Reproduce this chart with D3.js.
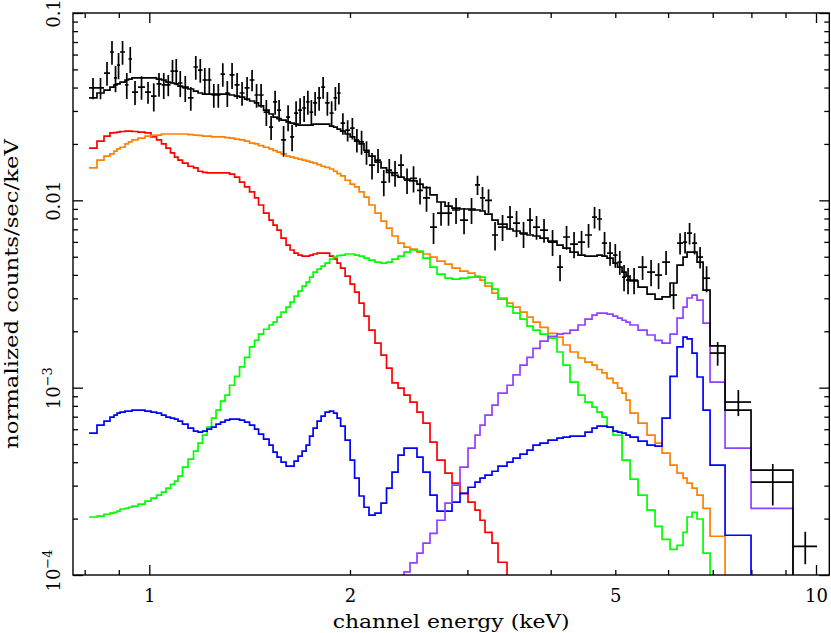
<!DOCTYPE html>
<html><head><meta charset="utf-8">
<script src="https://cdn.jsdelivr.net/npm/d3@7"></script>
<style>body{margin:0;background:#fff}svg{display:block}</style>
</head><body>
<svg id="chart" width="831" height="633"></svg>
<script>
// ---- channel bin edges (keV) ----
const binEdges = [
0.8120,0.8347,0.8552,0.8730,0.8852,0.8946,0.9039,0.9196,0.9307,0.9420,0.9617,0.9853,1.0059,1.0252,1.0430,1.0594,1.0760,1.0909,1.1042,1.1215,1.1431,1.1650,1.1833,1.2018,1.2207,1.2398,1.2592,1.2790,1.2990,1.3194,1.3424,1.3658,1.3896,1.4138,1.4384,1.4585,1.4839,
1.5124,1.5334,1.5547,1.5764,1.6038,1.6262,1.6488,1.6718,1.6951,1.7187,1.7396,1.7608,1.7853,1.8101,1.8353,1.8641,1.8900,1.9130,1.9363,1.9666,2.0009,2.0322,2.0641,2.0991,2.1357,2.1805,2.2262,2.2689,2.3124,2.3609,2.4103,2.4607,2.5209,2.5737,
2.6367,2.7012,2.7769,2.8448,2.9245,3.0064,3.0800,3.1336,3.1882,3.2663,3.3347,3.4400,3.5121,3.5980,3.6860,3.7631,3.8552,3.9632,4.0884,4.1741,4.2763,4.3961,4.5036,4.6138,4.6942,4.7760,4.8593,4.9611,5.0388,5.1177,5.1890,5.2614,5.4088,5.5797,5.7359,5.8762,6.0408,6.1885,6.3182,6.4062,6.5178,6.6314,6.7703,6.9360,7.3046,7.9902,9.2360,10.036];

// ---- data (normalized counts/sec/keV) ----
const dataRate = [
0.0398,0.0398,0.0478,0.0619,0.0450,0.0527,0.0619,0.0413,0.0568,0.0378,0.0402,0.0378,0.0360,0.0418,0.0413,0.0413,0.0490,0.0490,0.0423,0.0398,0.0352,0.0515,0.0496,0.0439,0.0439,0.0365,0.0365,0.0472,0.0374,0.0467,0.0413,0.0374,0.0398,0.0439,0.0365,0.0365,
0.0296,0.0246,0.0335,0.0303,0.0210,0.0278,0.0218,0.0292,0.0303,0.0311,0.0335,0.0296,0.0331,0.0352,0.0402,0.0331,0.0292,0.0352,0.0374,0.0258,0.0237,0.0243,0.0210,0.0205,0.0181,0.0154,0.0164,0.0125,0.0145,0.0140,0.0154,0.0128,0.0131,0.0113,
0.0103,0.00720,0.00855,0.00855,0.00888,0.00785,0.00888,0.0121,0.0103,0.0100,0.00653,0.00720,0.00814,0.00756,0.00661,0.00785,0.00720,0.00694,0.00599,0.00440,0.00637,0.00584,0.00599,0.00653,0.00814,0.00795,0.00591,0.00523,0.00510,0.00468,0.00389,0.00375,0.00375,0.00440,0.00414,0.00399,0.00468,0.00312,0.00591,0.00599,0.00669,0.00591,0.00498,0.00384,0.00153,0.000838,0.000313,0.000142];
const dataErr = [
0.0052,0.0052,0.0069,0.0090,0.0072,0.0084,0.0090,0.0066,0.0090,0.0055,0.0058,0.0050,0.0062,0.0061,0.0066,0.0054,0.0071,0.0078,0.0067,0.0063,0.0051,0.0075,0.0072,0.0070,0.0070,0.0053,0.0053,0.0068,0.0059,0.0074,0.0066,0.0054,0.0058,0.0057,0.0053,0.0053,
0.0047,0.0036,0.0049,0.0040,0.0039,0.0044,0.0035,0.0046,0.0048,0.0049,0.0049,0.0047,0.0048,0.0051,0.0053,0.0048,0.0046,0.0051,0.0049,0.0034,0.0031,0.0032,0.0030,0.0030,0.0026,0.0025,0.0024,0.0020,0.0021,0.0022,0.0022,0.0020,0.0021,0.0018,
0.0016,0.00135,0.00124,0.00124,0.00141,0.00125,0.00141,0.00141,0.00149,0.00145,0.00113,0.00114,0.00118,0.00120,0.00105,0.00125,0.00104,0.00101,0.00095,0.00070,0.00092,0.00093,0.00087,0.00095,0.00107,0.00104,0.00086,0.00076,0.00074,0.00068,0.00062,0.00060,0.00060,0.00064,0.00066,0.00063,0.00068,0.00050,0.00077,0.00078,0.00088,0.00077,0.00065,0.00061,0.00022,0.000133,0.000078,0.000028];

// ---- model: total and components ----
const modelTotal = [
0.0352,0.0374,0.0388,0.0402,0.0413,0.0418,0.0428,0.0439,0.0444,0.0450,0.0450,0.0450,0.0450,0.0444,0.0439,0.0428,0.0423,0.0418,0.0407,0.0402,0.0393,0.0383,0.0374,0.0369,0.0369,0.0369,0.0369,0.0369,0.0369,0.0365,0.0360,0.0356,0.0347,0.0339,0.0331,0.0319,
0.0303,0.0289,0.0278,0.0273,0.0268,0.0262,0.0258,0.0255,0.0252,0.0252,0.0252,0.0252,0.0255,0.0255,0.0255,0.0255,0.0249,0.0246,0.0240,0.0234,0.0226,0.0218,0.0207,0.0200,0.0185,0.0172,0.0160,0.0149,0.0141,0.0136,0.0133,0.0130,0.0127,0.0122,
0.0117,0.0107,0.00980,0.00932,0.00909,0.00899,0.00899,0.00888,0.00877,0.00845,0.00785,0.00747,0.00703,0.00686,0.00669,0.00653,0.00645,0.00629,0.00606,0.00577,0.00556,0.00529,0.00510,0.00504,0.00504,0.00510,0.00504,0.00492,0.00462,0.00440,0.00414,0.00394,0.00371,0.00344,0.00316,0.00297,0.00305,0.00362,0.00451,0.00498,0.00529,0.00529,0.00468,0.00332,0.00167,0.000759,0.000363,0.00008];
const compRed = [
0.0190,0.0207,0.0220,0.0229,0.0230,0.0231,0.0233,0.0234,0.0234,0.0233,0.0231,0.0229,0.0218,0.0210,0.0200,0.0190,0.0179,0.0170,0.0164,0.0158,0.0152,0.0149,0.0143,0.0141,0.0140,0.0140,0.0140,0.0140,0.0140,0.0138,0.0133,0.0125,0.0118,0.0111,0.0103,0.00944,
0.00855,0.00785,0.00738,0.00694,0.00629,0.00577,0.00543,0.00523,0.00510,0.00504,0.00504,0.00510,0.00517,0.00523,0.00523,0.00523,0.00504,0.00486,0.00462,0.00435,0.00394,0.00357,0.00324,0.00283,0.00241,0.00203,0.00173,0.00149,0.00127,0.00106,0.000994,0.000913,0.000838,0.000741,
0.000647,0.000512,0.000410,0.000350,0.000309,0.000273,0.000245,0.000222,0.000196,0.000169,0.000148,0.000117,0.000090];
const compOrange = [
0.0149,0.0164,0.0172,0.0177,0.0183,0.0188,0.0192,0.0200,0.0205,0.0210,0.0215,0.0220,0.0222,0.0223,0.0226,0.0226,0.0226,0.0226,0.0226,0.0226,0.0224,0.0223,0.0222,0.0220,0.0220,0.0218,0.0218,0.0218,0.0216,0.0215,0.0212,0.0210,0.0207,0.0202,0.0200,0.0196,
0.0192,0.0188,0.0184,0.0181,0.0177,0.0172,0.0170,0.0168,0.0166,0.0164,0.0162,0.0160,0.0158,0.0155,0.0152,0.0150,0.0147,0.0143,0.0139,0.0135,0.0128,0.0122,0.0118,0.0111,0.0104,0.00944,0.00855,0.00775,0.00711,0.00645,0.00591,0.00563,0.00549,0.00529,
0.00517,0.00498,0.00474,0.00457,0.00435,0.00419,0.00409,0.00394,0.00375,0.00348,0.00320,0.00301,0.00283,0.00269,0.00253,0.00238,0.00224,0.00210,0.00195,0.00186,0.00169,0.00155,0.00144,0.00137,0.00132,0.00125,0.00120,0.00112,0.00106,0.000994,0.000936,0.000859,0.000732,0.000647,0.000558,0.000506,0.000447,0.000386,0.000350,0.000329,0.000309,0.000291,0.000267,0.000227,0.000161,0.000080];
const compGreen = [
0.000204,0.000206,0.000211,0.000214,0.000216,0.000219,0.000225,0.000227,0.000230,0.000233,0.000239,0.000248,0.000257,0.000267,0.000277,0.000291,0.000305,0.000317,0.000337,0.000377,0.000415,0.000458,0.000506,0.000558,0.000616,0.000688,0.000759,0.000848,0.000913,0.00103,0.00115,0.00129,0.00145,0.00165,0.00179,0.00193,
0.00205,0.00216,0.00224,0.00238,0.00253,0.00269,0.00286,0.00308,0.00328,0.00348,0.00366,0.00389,0.00414,0.00429,0.00446,0.00462,0.00486,0.00498,0.00507,0.00510,0.00517,0.00517,0.00510,0.00504,0.00492,0.00480,0.00468,0.00462,0.00468,0.00486,0.00504,0.00529,0.00543,0.00536,
0.00492,0.00440,0.00404,0.00384,0.00380,0.00384,0.00389,0.00389,0.00389,0.00362,0.00336,0.00297,0.00272,0.00250,0.00232,0.00213,0.00203,0.00193,0.00184,0.00155,0.00132,0.00107,0.000913,0.000838,0.000788,0.000741,0.000696,0.000616,0.000558,0.000558,0.000410,0.000410,0.000325,0.000267,0.000222,0.000182,0.000155,0.000137,0.000144,0.000169,0.000204,0.000216,0.000199,0.000131,0.000070];
const compBlue = [
0.000572,0.000631,0.000663,0.000696,0.000714,0.000732,0.000741,0.000750,0.000750,0.000759,0.000759,0.000750,0.000741,0.000732,0.000714,0.000696,0.000688,0.000680,0.000663,0.000639,0.000608,0.000586,0.000579,0.000586,0.000601,0.000616,0.000639,0.000655,0.000671,0.000680,0.000680,0.000671,0.000655,0.000631,0.000601,0.000565,
0.000531,0.000494,0.000453,0.000426,0.000400,0.000381,0.000381,0.000405,0.000431,0.000458,0.000494,0.000551,0.000608,0.000663,0.000705,0.000741,0.000750,0.000732,0.000688,0.000623,0.000525,0.000410,0.000329,0.000264,0.000230,0.000209,0.000214,0.000242,0.000291,0.000354,0.000436,0.000476,0.000476,0.000426,
0.000354,0.000267,0.000219,0.000219,0.000245,0.000273,0.000294,0.000313,0.000329,0.000341,0.000358,0.000381,0.000400,0.000421,0.000442,0.000464,0.000494,0.000506,0.000525,0.000538,0.000545,0.000551,0.000551,0.000579,0.000608,0.000623,0.000623,0.000616,0.000586,0.000579,0.000572,0.000558,0.000545,0.000518,0.000494,0.000487,0.000688,0.00115,0.00165,0.00186,0.00182,0.00153,0.00114,0.000759,0.000386,0.000163,0.000070];
const purpleStart = 66;
const compPurple = [
0.00007,0.000104,0.000116,0.000131,0.000148,0.000167,0.000196,0.000242,0.000302,0.000377,0.000476,0.000558,0.000631,0.000714,0.000807,0.000936,0.00103,0.00117,0.00132,0.00145,0.00162,0.00177,0.00188,0.00193,0.00195,0.00203,0.00216,0.00232,0.00244,0.00250,0.00250,0.00247,0.00241,0.00235,0.00229,0.00224,0.00216,0.00203,0.00191,0.00179,0.00173,0.00193,0.00235,0.00269,0.00301,0.00312,0.00293,0.00221,0.00107,0.000476,0.000227,0.00007];

// ---- ticks ----
const xMajorTicks = [1, 10];
const xMinorTicks = [0.8, 0.9, 2, 3, 4, 5, 6, 7, 8, 9];
const xTickLabels = [1, 2, 5, 10];
const yMajorTicks = [0.1, 0.01, 0.001, 0.0001];
const yMinorTicks = [0.0002,0.0003,0.0004,0.0005,0.0006,0.0007,0.0008,0.0009,
  0.002,0.003,0.004,0.005,0.006,0.007,0.008,0.009,
  0.02,0.03,0.04,0.05,0.06,0.07,0.08,0.09];
const yTickLabels = [["0.1",""],["0.01",""],["10","\u22123"],["10","\u22124"]];
const xTitle = "channel energy (keV)";
const yTitle = "normalized counts/sec/keV";

// ---- layout ----
const L = 73, R = 829.3, T = 13, B = 575;
const FONT = "DejaVu Serif";
const svg = d3.select("#chart");
const x = d3.scaleLog().domain([1, 10]).range([149.3, 816]);
const y = d3.scaleLog().domain([1e-4, 0.1]).range([B, T]);

svg.append("defs").append("clipPath").attr("id","clip")
  .append("rect").attr("x",L).attr("y",T).attr("width",R-L).attr("height",B-T);

const plot = svg.append("g").attr("clip-path","url(#clip)");

function stepPoints(vals, start) {
  const pts = vals.map((v,i) => [binEdges[start+i], v]);
  pts.push([binEdges[start+vals.length], vals[vals.length-1]]);
  return pts;
}
const stepLine = d3.line().x(d => x(d[0])).y(d => y(d[1])).curve(d3.curveStepAfter);

const series = [
  {vals: compRed, start: 0, color: "#ff0000"},
  {vals: compOrange, start: 0, color: "#ff8000"},
  {vals: compGreen, start: 0, color: "#00ff00"},
  {vals: compBlue, start: 0, color: "#0000ff"},
  {vals: compPurple, start: purpleStart, color: "#9040ff"},
  {vals: modelTotal, start: 0, color: "#000000"}
];
series.forEach(s => {
  plot.append("path").attr("d", stepLine(stepPoints(s.vals, s.start)))
    .attr("fill","none").attr("stroke", s.color).attr("stroke-width",1.7);
});

// data crosses
const crosses = plot.append("g").attr("stroke","#000").attr("stroke-width",1.7);
dataRate.forEach((v,i) => {
  const lo = binEdges[i], hi = binEdges[i+1], mid = (lo+hi)/2, e = dataErr[i];
  crosses.append("line").attr("x1",x(lo)).attr("x2",x(hi)).attr("y1",y(v)).attr("y2",y(v));
  crosses.append("line").attr("x1",x(mid)).attr("x2",x(mid)).attr("y1",y(v+e)).attr("y2",y(Math.max(v-e,1e-6)));
});

// ticks
function styleTicks(g){ g.select(".domain").remove(); g.selectAll("line").attr("stroke","#000").attr("stroke-width",1.3); }
svg.append("g").attr("transform",`translate(0,${B})`).call(d3.axisBottom(x).tickValues(xMinorTicks).tickSize(-5).tickFormat("")).call(styleTicks);
svg.append("g").attr("transform",`translate(0,${B})`).call(d3.axisBottom(x).tickValues(xMajorTicks).tickSize(-10).tickFormat("")).call(styleTicks);
svg.append("g").attr("transform",`translate(0,${T})`).call(d3.axisTop(x).tickValues(xMinorTicks).tickSize(-5).tickFormat("")).call(styleTicks);
svg.append("g").attr("transform",`translate(0,${T})`).call(d3.axisTop(x).tickValues(xMajorTicks).tickSize(-10).tickFormat("")).call(styleTicks);
svg.append("g").attr("transform",`translate(${L},0)`).call(d3.axisLeft(y).tickValues(yMinorTicks).tickSize(-5).tickFormat("")).call(styleTicks);
svg.append("g").attr("transform",`translate(${L},0)`).call(d3.axisLeft(y).tickValues(yMajorTicks).tickSize(-10).tickFormat("")).call(styleTicks);
svg.append("g").attr("transform",`translate(${R},0)`).call(d3.axisRight(y).tickValues(yMinorTicks).tickSize(-5).tickFormat("")).call(styleTicks);
svg.append("g").attr("transform",`translate(${R},0)`).call(d3.axisRight(y).tickValues(yMajorTicks).tickSize(-10).tickFormat("")).call(styleTicks);

// frame
svg.append("rect").attr("x",L).attr("y",T).attr("width",R-L).attr("height",B-T)
  .attr("fill","none").attr("stroke","#000").attr("stroke-width",1.4);

// x tick labels
const xl = svg.append("g").attr("transform",`translate(0,${B})`)
  .call(d3.axisBottom(x).tickValues(xTickLabels).tickSize(0).tickFormat(d => String(d)));
xl.select(".domain").remove();
xl.selectAll("text").attr("y",27).attr("dy",null)
  .attr("font-family",FONT).attr("font-size",18).attr("fill","#000");

// y tick labels (rotated)
const yl = svg.append("g").attr("transform",`translate(${L},0)`)
  .call(d3.axisLeft(y).tickValues(yMajorTicks).tickSize(0).tickFormat(""));
yl.select(".domain").remove();
yl.selectAll("text").each(function(d,i){
  const t = d3.select(this);
  const lab = yTickLabels[i];
  t.attr("transform","rotate(-90)").attr("x", i === 3 ? 5 : 0).attr("y",-13).attr("dy",null)
   .attr("text-anchor","middle").attr("font-family",FONT).attr("font-size",18).attr("fill","#000");
  t.append("tspan").text(lab[0]);
  if (lab[1]) t.append("tspan").attr("dy",-8).attr("font-size",13).text(lab[1]);
});

// titles
svg.append("text").attr("x",(L+R)/2).attr("y",628).attr("text-anchor","middle")
  .attr("font-family",FONT).attr("font-size",19).attr("fill","#000")
  .attr("textLength",237).attr("lengthAdjust","spacingAndGlyphs").text(xTitle);
svg.append("text").attr("transform",`translate(18,${(T+B)/2}) rotate(-90)`).attr("text-anchor","middle")
  .attr("font-family",FONT).attr("font-size",19).attr("fill","#000")
  .attr("textLength",310).attr("lengthAdjust","spacingAndGlyphs").text(yTitle);
</script>
</body></html>
